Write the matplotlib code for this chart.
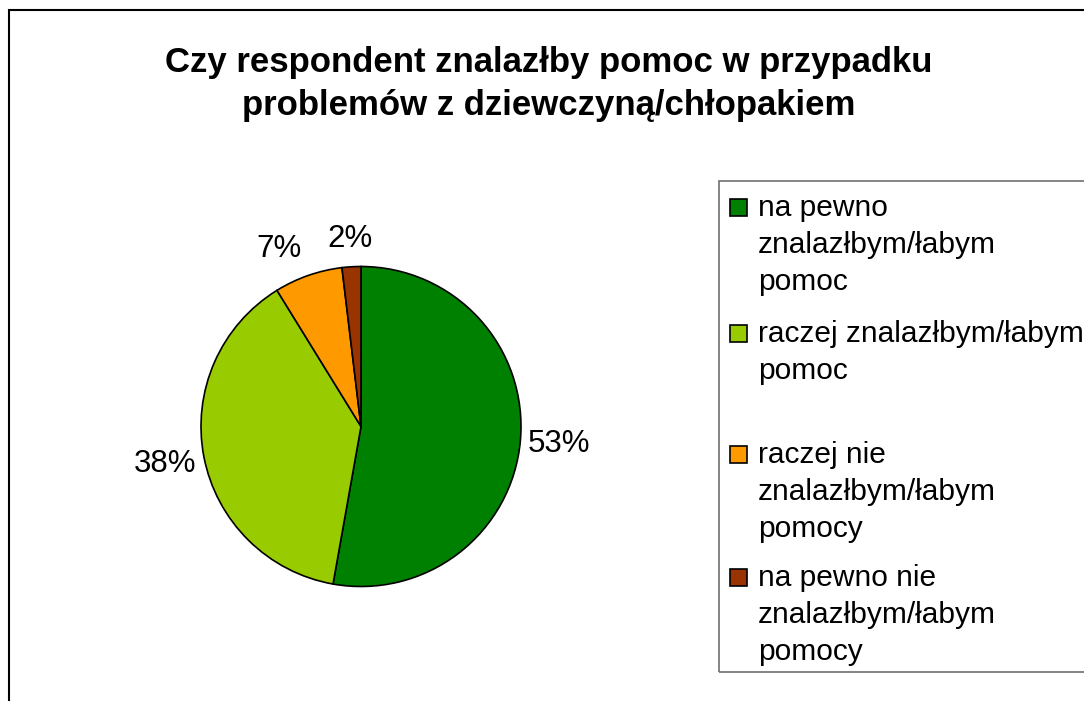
import numpy as np
import matplotlib.pyplot as plt
from matplotlib.patches import Rectangle

plt.rcParams.update({
    "font.family": ["Liberation Sans", "DejaVu Sans"],
    "figure.facecolor": "white",
})

W, H = 1084, 701  # output size in pixels (dpi=100)

title = "Czy respondent znalazłby pomoc w przypadku\nproblemów z dziewczyną/chłopakiem"
categories = [
    ["na pewno", "znalazłbym/łabym", "pomoc"],
    ["raczej znalazłbym/łabym", "pomoc"],
    ["raczej nie", "znalazłbym/łabym", "pomocy"],
    ["na pewno nie", "znalazłbym/łabym", "pomocy"],
]
shares = [52.8, 38.4, 6.9, 1.9]
colors = ["#008000", "#99CC00", "#FF9900", "#993300"]


def fx(x):
    return x / W


def fy(y):
    return 1 - y / H


fig = plt.figure(figsize=(W / 100, H / 100), dpi=100)

# outer chart frame (right and bottom edges fall outside the picture)
fig.add_artist(Rectangle((fx(9), fy(760)), 1.2, (760 - 9.5) / H,
                         transform=fig.transFigure, facecolor="none",
                         edgecolor="black", linewidth=1.5))

fig.text(fx(549), fy(46), title, ha="center", va="top", multialignment="center",
         fontsize=25, fontweight="bold", linespacing=1.4)

# ── pie ────────────────────────────────────────────────────────────────
r = 160
cx, cy = 361, 426.5
ax = fig.add_axes([fx(cx - r), fy(cy + r), 2 * r / W, 2 * r / H])
wedges, _, pct = ax.pie(shares, colors=colors, startangle=90, counterclock=False,
                        autopct="%1.0f%%",
                        wedgeprops=dict(edgecolor="black", linewidth=1.2),
                        textprops=dict(fontsize=22.5, color="black"))
ax.set_xlim(-1, 1)
ax.set_ylim(-1, 1)

# place percentage labels just outside the rim, Excel style
for w, t in zip(wedges, pct):
    ang = np.deg2rad((w.theta1 + w.theta2) / 2)
    c, s = np.cos(ang), np.sin(ang)
    if s > 0.5:
        dist, va = 1.125, "baseline"
        ha = "right" if c < -0.3 else ("left" if c > 0.3 else "center")
    else:
        dist, va, ha = 1.245, "center", "center"
    t.set_position((dist * c, dist * s))
    t.set_ha(ha)
    t.set_va(va)

# ── legend box ─────────────────────────────────────────────────────────
fig.add_artist(Rectangle((fx(719), fy(672)), 0.5, (672 - 181) / H,
                         transform=fig.transFigure, facecolor="none",
                         edgecolor="#707070", linewidth=1.2))

first_baselines = [216, 342, 463, 586]
line_step = 37
for lines, col, base in zip(categories, colors, first_baselines):
    fig.add_artist(Rectangle((fx(729.5), fy(base)), 17 / W, 17 / H,
                             transform=fig.transFigure, facecolor=col,
                             edgecolor="black", linewidth=1.2))
    for k, line in enumerate(lines):
        fig.text(fx(758), fy(base + k * line_step), line, ha="left",
                 va="baseline", fontsize=21.5)

plt.savefig("out.png", dpi=100, facecolor="white")
